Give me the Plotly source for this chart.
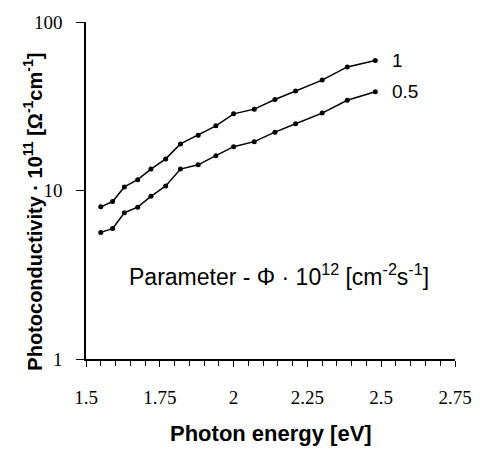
import math
import plotly.graph_objects as go

# Photon energy [eV]
energy = [1.55, 1.59, 1.63, 1.675, 1.72, 1.77, 1.82, 1.88, 1.94, 2.00,
          2.07, 2.14, 2.21, 2.30, 2.385, 2.48]
# Photoconductivity * 1e11 for flux parameter 1 and 0.5
sigma_1 = [8.0, 8.6, 10.5, 11.6, 13.4, 15.4, 18.9, 21.3, 24.2, 28.5,
           30.4, 34.7, 39.0, 45.2, 54.1, 59.1]
sigma_05 = [5.64, 5.94, 7.38, 7.96, 9.23, 10.65, 13.4, 14.2, 16.1, 18.2,
            19.5, 22.2, 24.9, 28.8, 34.3, 38.6]
series_names = ["1", "0.5"]
x_ticks = [1.5, 1.75, 2, 2.25, 2.5, 2.75]
x_ticktext = ["1.5", "1.75", "2", "2.25", "2.5", "2.75"]
y_ticks = [1, 10, 100]
y_ticktext = ["1", "10", "100"]

SANS = "Liberation Sans, Arial"
SERIF = "Liberation Serif, Times New Roman"

fig = go.Figure()
for name, ys in zip(series_names, [sigma_1, sigma_05]):
    fig.add_trace(go.Scatter(
        x=energy, y=ys, mode="lines+markers", name=name,
        line=dict(color="black", width=1.5),
        marker=dict(color="black", size=5),
        showlegend=False, cliponaxis=False,
    ))
    fig.add_annotation(x=energy[-1], y=math.log10(ys[-1]),
                       xref="x", yref="y", text=name, showarrow=False,
                       xanchor="left", yanchor="middle", xshift=15,
                       font=dict(family=SANS, size=19, color="black"))

L, R, T, B = 86, 26, 17, 94
W, H = 484, 453
PW, PH = W - L - R, H - T - B


def px_to_paper(px, py):
    return (px - L) / PW, (H - B - py) / PH


ax, ay = px_to_paper(281, 274)
fig.add_annotation(x=ax, y=ay, xref="paper", yref="paper",
                   text="Parameter - \u03a6 \u00b7 10<sup>12</sup> [cm<sup>-2</sup>s<sup>-1</sup>]",
                   showarrow=False, xanchor="center", yanchor="middle",
                   font=dict(family=SANS, size=23, color="black"))

ax, ay = px_to_paper(32, 209)
fig.add_annotation(x=ax, y=ay, xref="paper", yref="paper",
                   text="<b>Photoconductivity \u00b7 10<sup>11</sup> [\u03a9<sup>-1</sup>cm<sup>-1</sup>]</b>",
                   showarrow=False, textangle=-90, xanchor="center", yanchor="middle",
                   font=dict(family=SANS, size=20, color="black"))
ax, ay = px_to_paper(272, 435)
fig.add_annotation(x=ax, y=ay, xref="paper", yref="paper",
                   text="<b>Photon energy [eV]</b>",
                   showarrow=False, xanchor="center", yanchor="middle",
                   font=dict(family=SANS, size=22, color="black"))

fig.update_layout(
    width=W, height=H,
    margin=dict(l=L, r=R, t=T, b=B),
    plot_bgcolor="white", paper_bgcolor="white",
)
fig.update_xaxes(
    range=[1.5, 2.75], tickvals=x_ticks, ticktext=x_ticktext,
    showline=True, linecolor="black", linewidth=1.5,
    ticks="outside", ticklen=6, tickcolor="black", tickwidth=1.2,
    minor=dict(dtick=0.05, tick0=1.5, ticks="outside", ticklen=5, tickcolor="black", tickwidth=1),
    showgrid=False, zeroline=False,
    tickfont=dict(family=SERIF, size=19, color="black"),
    ticklabelstandoff=14,
)
fig.update_yaxes(
    type="log", range=[0, 2], tickvals=y_ticks, ticktext=y_ticktext,
    showline=True, linecolor="black", linewidth=1.5,
    ticks="outside", ticklen=8, tickcolor="black", tickwidth=1.2,
    showgrid=False, zeroline=False,
    tickfont=dict(family=SERIF, size=19, color="black"),
    ticklabelstandoff=10,
)
fig.write_html("out.html")
